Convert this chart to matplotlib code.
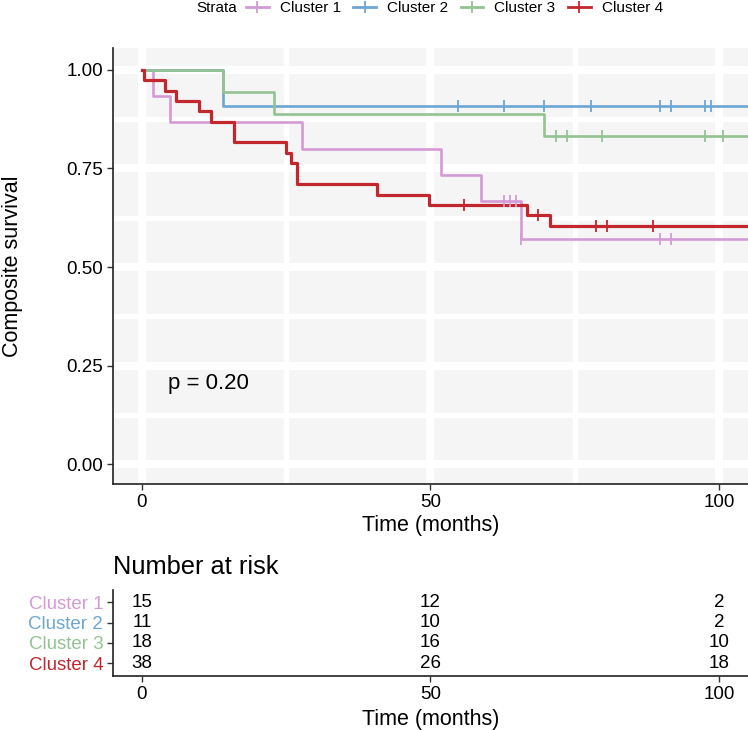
import numpy as np
import matplotlib
matplotlib.use('Agg')
import matplotlib.pyplot as plt
from matplotlib.lines import Line2D

plt.rcParams['font.family'] = ['Liberation Sans', 'DejaVu Sans']

# survival steps (time in months, survival)
c1_t = [0, 2.0, 4.9, 27.8, 51.8, 58.8, 65.7]
c1_s = [1.0, 0.933, 0.867, 0.800, 0.733, 0.667, 0.571]
c1_cens = [62.7, 63.8, 64.8, 65.7, 89.7, 91.7]

c2_t = [0, 14.0]
c2_s = [1.0, 0.909]
c2_cens = [54.8, 62.7, 69.7, 77.8, 89.7, 91.7, 97.6, 98.6]

c3_t = [0, 14.0, 22.9, 69.7]
c3_s = [1.0, 0.944, 0.889, 0.833]
c3_cens = [71.7, 73.6, 79.7, 97.6, 100.6]

c4_t = [0, 0.4, 4.0, 6.0, 9.9, 12.0, 15.9, 24.9, 25.9, 26.9, 40.8, 49.8, 66.7, 70.7]
c4_s = [1.0, 0.974, 0.947, 0.921, 0.895, 0.868, 0.816, 0.789, 0.763, 0.711, 0.684, 0.658, 0.632, 0.603]
c4_cens = [55.8, 68.7, 78.7, 80.6, 88.6]

names = ['Cluster 1', 'Cluster 2', 'Cluster 3', 'Cluster 4']
colors = ['#D49AD6', '#6CA6D3', '#93C393', '#C1272D']

risk_times = [0, 50, 100]
risk_c1 = [15, 12, 2]
risk_c2 = [11, 10, 2]
risk_c3 = [18, 16, 10]
risk_c4 = [38, 26, 18]

pval = 'p = 0.20'
xmax = 105

fig = plt.figure(figsize=(7.48, 7.30), dpi=100)
ax = fig.add_axes([0.151, 0.337, 0.849, 0.597])
ax.set_facecolor('#F5F5F5')

curves = [(c1_t, c1_s, c1_cens), (c2_t, c2_s, c2_cens),
          (c3_t, c3_s, c3_cens), (c4_t, c4_s, c4_cens)]
for i, (t, s, cens) in enumerate(curves):
    tt = list(t) + [xmax]
    ss = list(s) + [s[-1]]
    lw = 2.3 if i == 3 else 1.9
    ax.step(tt, ss, where='post', color=colors[i], lw=lw, zorder=3)
    idx = np.searchsorted(t, cens, side='right') - 1
    ax.plot(cens, np.array(s)[idx], ls='none', marker='|', ms=8, mew=1.3,
            color=colors[i], zorder=4)

ax.set_xlim(-5, xmax)
ax.set_ylim(-0.05, 1.055)
ax.set_xticks([0, 50, 100])
ax.set_yticks([0, 0.25, 0.5, 0.75, 1.0])
ax.set_yticklabels(['0.00', '0.25', '0.50', '0.75', '1.00'])
ax.set_xticks([25, 75], minor=True)
ax.set_yticks([0.125, 0.375, 0.625, 0.875], minor=True)
ax.grid(True, which='major', color='white', lw=5.8, zorder=0)
ax.grid(True, which='minor', color='white', lw=3.8, zorder=0)
ax.set_axisbelow(True)
ax.tick_params(which='minor', length=0)
ax.tick_params(which='major', labelsize=13.5, color='#333333', length=4,
               width=1, pad=3)
for sp in ['top', 'right']:
    ax.spines[sp].set_visible(False)
for sp in ['left', 'bottom']:
    ax.spines[sp].set_color('#222222')
    ax.spines[sp].set_linewidth(1.2)
ax.set_xlabel('Time (months)', fontsize=15.5)
ax.xaxis.set_label_coords(0.5, -0.071)
ax.set_ylabel('Composite survival', fontsize=15.5)
ax.yaxis.set_label_coords(-0.142, 0.5)
ax.text(4.5, 0.205, pval, fontsize=16, va='center', ha='left')

# legend on top
handles = [Line2D([], [], color=c, lw=2, marker='|', ms=8, mew=1.3) for c in colors]
fig.text(237 / 748, 1 - 8 / 730, 'Strata', fontsize=11, va='center', ha='right')
fig.legend(handles, names, loc='center left', bbox_to_anchor=(246 / 748, 1 - 8 / 730),
           ncol=4, frameon=False, fontsize=11, handlelength=1.5,
           handletextpad=0.72, columnspacing=0.8, borderaxespad=0, borderpad=0)

# number at risk table
rax = fig.add_axes([0.151, 0.074, 0.849, 0.118])
rax.set_xlim(-5, xmax)
rax.set_ylim(0.375, 4.61)
risk_rows = [risk_c1, risk_c2, risk_c3, risk_c4]
for i, row in enumerate(risk_rows):
    y = 4 - i
    for t, n in zip(risk_times, row):
        rax.text(t, y, str(n), ha='center', va='center', fontsize=13.5)
rax.set_yticks([4, 3, 2, 1])
rax.set_yticklabels(names, fontsize=13.3)
for lab, c in zip(rax.get_yticklabels(), colors):
    lab.set_color(c)
rax.set_xticks([0, 50, 100])
rax.tick_params(labelsize=13.5, color='#333333', length=4, width=1, pad=3)
for sp in ['top', 'right']:
    rax.spines[sp].set_visible(False)
for sp in ['left', 'bottom']:
    rax.spines[sp].set_color('#222222')
    rax.spines[sp].set_linewidth(1.2)
rax.set_xlabel('Time (months)', fontsize=15.5)
rax.xaxis.set_label_coords(0.5, -0.385)
rax.text(-5, 4.61 + 0.55, 'Number at risk', fontsize=18.3, ha='left', va='bottom')

fig.savefig('out.png', dpi=100)
